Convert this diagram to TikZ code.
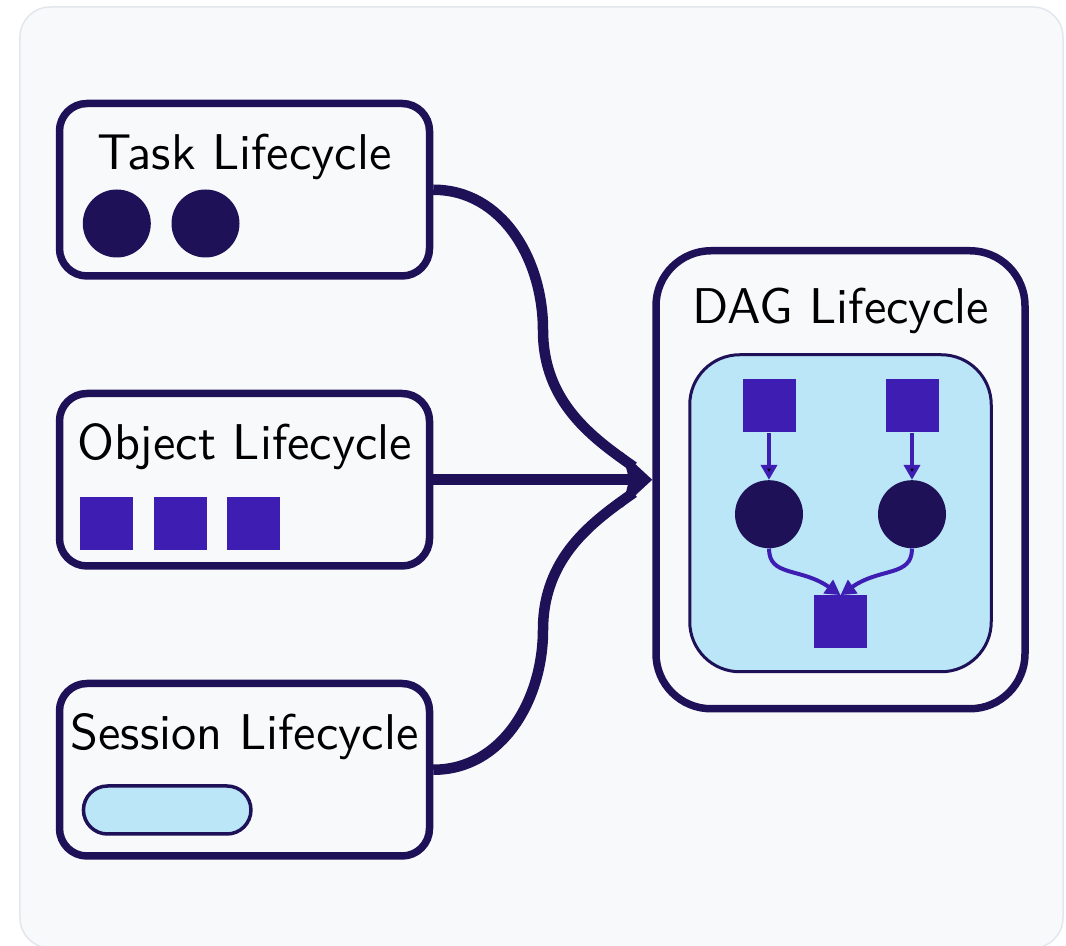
\documentclass[tikz,border=0pt]{standalone}
\usepackage{fontspec}
\newfontfamily\lifefont{lmsans10-regular.otf}
\usetikzlibrary{shapes,arrows.meta,positioning}
\definecolor{navy}{HTML}{1E1158}
\definecolor{sqviolet}{HTML}{3E1DB3}
\definecolor{skyfill}{HTML}{BBE6F8}
\definecolor{paper}{HTML}{F8F9FB}
\definecolor{paperline}{HTML}{E3E6ED}
\tikzstyle{lifebox} = [rectangle, draw=navy, line width=0.15cm, fill=paper,
    rounded corners=0.55cm, minimum width=7.4cm, minimum height=3.45cm]
\tikzstyle{dagbox} = [lifebox, rounded corners=1.1cm, minimum width=7.38cm, minimum height=9.16cm]
\tikzstyle{lifetitle} = [font=\fontsize{28.6}{34}\selectfont\lifefont, inner sep=0pt, anchor=base]
\tikzstyle{taskdot} = [circle, fill=navy, minimum size=1.36cm, inner sep=0pt]
\tikzstyle{cell} = [rectangle, fill=sqviolet, minimum size=1.06cm, inner sep=0pt]
\tikzstyle{pill} = [rectangle, draw=navy, line width=0.07cm, fill=skyfill,
    rounded corners=0.48cm, minimum width=3.35cm, minimum height=0.96cm, inner sep=0pt]
\tikzstyle{panel} = [rectangle, draw=navy, line width=0.06cm, fill=skyfill,
    rounded corners=1cm, minimum width=6.03cm, minimum height=6.34cm]
\tikzstyle{bigline} = [draw=navy, line width=0.21cm]
\tikzstyle{dagline} = [draw=sqviolet, line width=0.08cm, -{Triangle[length=0.3cm,width=0.32cm]}]

\begin{document}
\begin{tikzpicture}[node distance=5.8cm]
	% background card
	\useasboundingbox (0,0) rectangle (21.32,-18.92);
	\path [fill=paper, draw=paperline, line width=0.03cm, rounded corners=0.6cm] (0.4,-0.14) rectangle (21.26,-18.96);

	\node [lifebox] (task) at (4.89,-3.795) {};
	\node [lifebox, below of=task] (object) {};
	\node [lifebox, below of=object] (session) {};
	\node [dagbox, right of=object, node distance=11.92cm] (dag) {};

	\node [lifetitle] (tasktitle) at ([yshift=0.4cm]task.center) {Task Lifecycle};
	\node [lifetitle] (objecttitle) at ([yshift=0.4cm]object.center) {Object Lifecycle};
	\node [lifetitle] (sessiontitle) at ([yshift=0.4cm]session.center) {Session Lifecycle};
	\node [lifetitle] (dagtitle) at ([yshift=3.13cm]dag.center) {DAG Lifecycle};

	\node [taskdot] (t1) at ([xshift=-2.554cm,yshift=-0.675cm]task.center) {};
	\node [taskdot, right=0.4cm of t1] (t2) {};

	\node [cell] (o1) at ([xshift=-2.764cm,yshift=-0.87cm]object.center) {};
	\node [cell, right=0.4cm of o1] (o2) {};
	\node [cell, right=0.4cm of o2] (o3) {};

	\node [pill] (s1) at ([xshift=-1.546cm,yshift=-0.805cm]session.center) {};

	% the small dag
	\node [panel] (dagpanel) at ([yshift=-0.67cm]dag.center) {};
	\node [cell] (src1) at ([xshift=-1.43cm,yshift=2.145cm]dagpanel.center) {};
	\node [cell] (src2) at ([xshift=1.43cm,yshift=2.145cm]dagpanel.center) {};
	\node [taskdot, below=0.94cm of src1] (job1) {};
	\node [taskdot, below=0.94cm of src2] (job2) {};
	\node [cell] (sink) at ([yshift=-2.175cm]dagpanel.center) {};

	\path [dagline] (src1) edge (job1);
	\path [dagline] (src2) edge (job2);
	\draw [dagline] (job1.south) .. controls +(0,-0.57) and +(-0.8,0.56) .. (sink.north);
	\draw [dagline] (job2.south) .. controls +(0,-0.57) and +(0.8,0.56) .. (sink.north);

	% lifecycles feeding the dag
	\coordinate (upbend) at (10.86,-6.6);
	\coordinate (lowbend) at (10.86,-12.6);
	\draw [bigline, shorten >=0.45cm] (task.east) to[out=0,in=90] (upbend) to[out=-90,in=145] (dag.west);
	\draw [bigline, shorten >=0.45cm] (session.east) to[out=0,in=-90] (lowbend) to[out=90,in=-145] (dag.west);
	\draw [bigline, -{Stealth[length=0.6cm,width=1.1cm,inset=0.14cm]}] (object) -- (dag);
\end{tikzpicture}
\end{document}
